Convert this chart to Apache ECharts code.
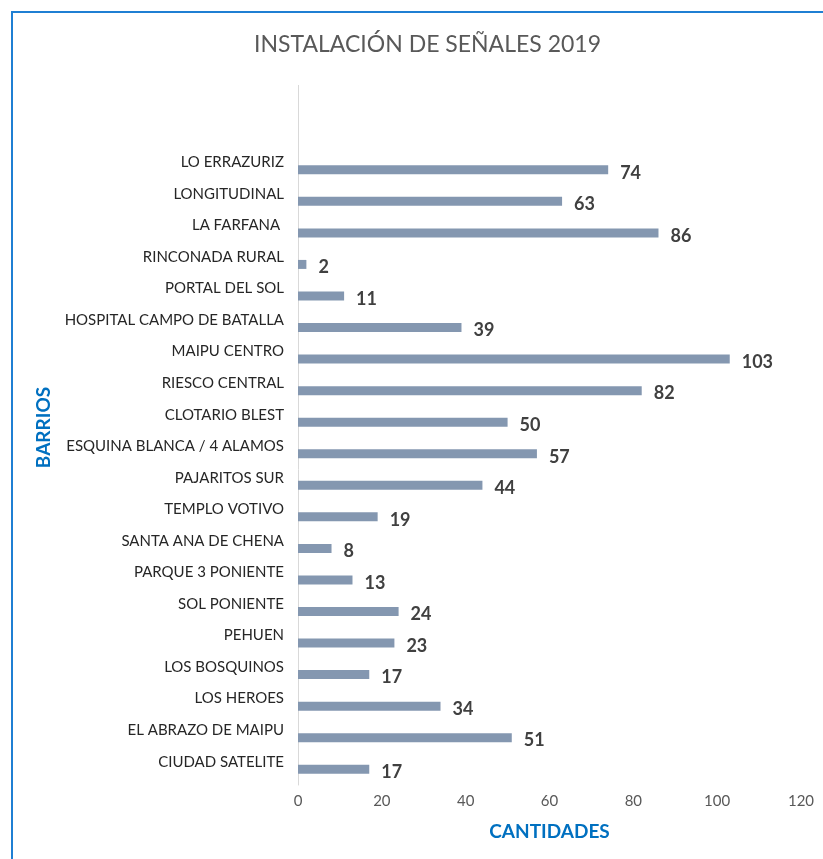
<!DOCTYPE html>
<html>
<head>
<meta charset="utf-8">
<script src="https://cdn.jsdelivr.net/npm/echarts@6/dist/echarts.min.js"></script>
<style>
  html, body { margin: 0; padding: 0; background: #fff; }
  #chart { width: 823px; height: 859px; }
</style>
</head>
<body>
<div id="chart"></div>
<script>
    // barrios, de abajo hacia arriba (orden del eje)
    var barrios = ['CIUDAD SATELITE', 'EL ABRAZO DE MAIPU', 'LOS HEROES', 'LOS BOSQUINOS', 'PEHUEN',
        'SOL PONIENTE', 'PARQUE 3 PONIENTE', 'SANTA ANA DE CHENA', 'TEMPLO VOTIVO', 'PAJARITOS SUR',
        'ESQUINA BLANCA / 4 ALAMOS', 'CLOTARIO BLEST', 'RIESCO CENTRAL', 'MAIPU CENTRO',
        'HOSPITAL CAMPO DE BATALLA', 'PORTAL DEL SOL', 'RINCONADA RURAL', 'LA FARFANA ',
        'LONGITUDINAL', 'LO ERRAZURIZ'];
    var cantidades = [17, 51, 34, 17, 23, 24, 13, 8, 19, 44, 57, 50, 82, 103, 39, 11, 2, 86, 63, 74];
    var ticksX = { min: 0, max: 120, interval: 20 };

    var fuente = 'Lato, "Open Sans", sans-serif';
    var myChart = echarts.init(document.getElementById('chart'));

    var option = {
        backgroundColor: '#fff',
        animation: false,
        title: {
            text: 'INSTALACIÓN DE SEÑALES 2019',
            left: 249,
            top: 28,
            textStyle: { fontFamily: fuente, fontSize: 23, fontWeight: 'normal', color: '#595959' }
        },
        grid: { left: 298, right: 22, top: 154, bottom: 74 },
        xAxis: {
            type: 'value',
            min: ticksX.min,
            max: ticksX.max,
            interval: ticksX.interval,
            name: 'CANTIDADES',
            nameLocation: 'middle',
            nameGap: 37,
            nameTextStyle: { fontFamily: fuente, fontSize: 19, fontWeight: 'bold', color: '#0070C0' },
            axisLine: { show: false },
            axisTick: { show: false },
            splitLine: { show: false },
            axisLabel: { fontFamily: fuente, fontSize: 15, color: '#595959', margin: 9 }
        },
        yAxis: {
            type: 'category',
            data: barrios,
            name: 'BARRIOS',
            nameLocation: 'middle',
            nameGap: 240,
            nameRotate: 90,
            nameTextStyle: {
                fontFamily: fuente, fontSize: 19, fontWeight: 'bold', color: '#0070C0',
                padding: [0, 0, 0, 84]
            },
            axisLine: { show: true, lineStyle: { color: '#D9D9D9', width: 1 } },
            axisTick: { show: false },
            axisLabel: {
                fontFamily: fuente, fontSize: 15, color: '#262626', margin: 14,
                verticalAlign: 'bottom'
            }
        },
        series: [{
            name: 'Cantidad',
            type: 'bar',
            data: cantidades,
            barWidth: 9,
            itemStyle: { color: '#8497B0' },
            label: {
                show: true,
                position: 'right',
                distance: 12,
                offset: [0, 3],
                fontFamily: fuente,
                fontSize: 18,
                fontWeight: 'bold',
                color: '#404040'
            }
        }],
        graphic: [
            // marco azul del gráfico
            { type: 'rect', shape: { x: 12, y: 12, width: 830, height: 870 },
              style: { fill: 'none', stroke: '#1F7FD3', lineWidth: 2 }, silent: true },
            // prolongación del eje vertical hacia arriba
            { type: 'line', shape: { x1: 298.5, y1: 85, x2: 298.5, y2: 154 },
              style: { stroke: '#D9D9D9', lineWidth: 1 }, silent: true }
        ]
    };

    myChart.setOption(option);
</script>
</body>
</html>
